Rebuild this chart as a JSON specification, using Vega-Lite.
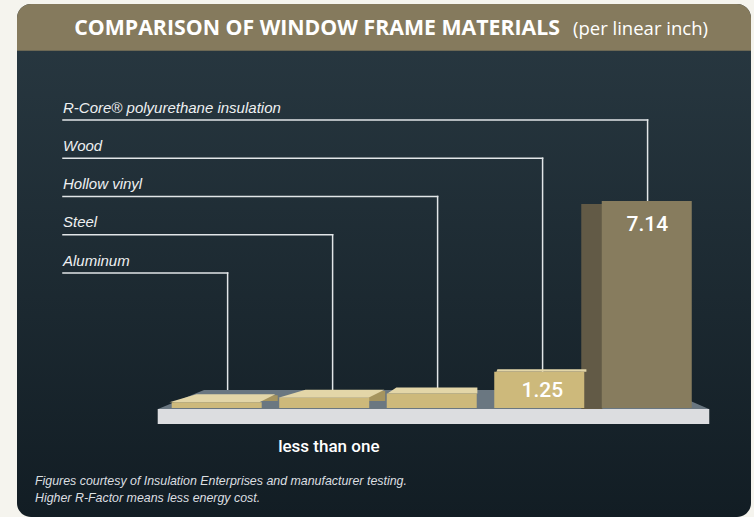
{
  "$schema": "https://vega.github.io/schema/vega-lite/v6.json",
  "width": 754,
  "height": 517,
  "autosize": {"type": "fit", "contains": "padding"},
  "padding": {"left": 17, "top": 4, "right": 3, "bottom": 0},
  "background": "#f5f4ee",
  "config": {
    "view": {
      "fill": {"gradient": "linear", "x1": 0, "y1": 0, "x2": 0, "y2": 1,
        "stops": [{"offset": 0, "color": "#293942"}, {"offset": 1, "color": "#121d24"}]},
      "stroke": null,
      "cornerRadius": 14
    }
  },
  "data": {"values": [
    {"material": "Aluminum", "value": 0.2, "order": 1},
    {"material": "Steel", "value": 0.35, "order": 2},
    {"material": "Hollow vinyl", "value": 0.5, "order": 3},
    {"material": "Wood", "value": 1.25, "order": 4},
    {"material": "R-Core® polyurethane insulation", "value": 7.14, "order": 5}
  ]},
  "resolve": {"scale": {"x": "independent", "y": "independent"}},
  "layer": [
    {
      "data": {"values": [{}]},
      "mark": {"type": "rect", "color": "#857a5d", "cornerRadiusTopLeft": 14, "cornerRadiusTopRight": 14},
      "encoding": {
        "x": {"datum": -0.811, "type": "quantitative", "scale": {"domain": [-0.811, 5.923], "nice": false, "zero": false}, "axis": null},
        "x2": {"datum": 5.923},
        "y": {"datum": 12.32, "type": "quantitative", "scale": {"domain": [-3.759, 13.931], "nice": false, "zero": false}, "axis": null},
        "y2": {"datum": 13.931}
      }
    },
    {
      "mark": {"type": "rule", "color": "#e2e6e8", "strokeWidth": 1.5, "strokeCap": "square"},
      "encoding": {
        "x": {"field": "order", "type": "quantitative", "scale": {"domain": [-1.006, 5.985], "nice": false, "zero": false}, "axis": null},
        "x2": {"datum": -0.568},
        "y": {"field": "order", "type": "quantitative", "scale": {"domain": [-5.379, 8.033], "nice": false, "zero": false}, "axis": null}
      }
    },
    {
      "mark": {"type": "rule", "color": "#e2e6e8", "strokeWidth": 1.5, "strokeCap": "square"},
      "encoding": {
        "x": {"field": "order", "type": "quantitative", "scale": {"domain": [-1.006, 5.985], "nice": false, "zero": false}, "axis": null},
        "y": {"field": "order", "type": "quantitative", "scale": {"domain": [-5.379, 8.033], "nice": false, "zero": false}, "axis": null},
        "y2": {"datum": -2.451}
      }
    },
    {
      "mark": {"type": "text", "align": "left", "baseline": "alphabetic", "dy": -7.5, "font": "Liberation Sans", "fontStyle": "italic", "fontSize": 15, "color": "#eef0f1"},
      "encoding": {
        "x": {"datum": -0.568, "type": "quantitative", "scale": {"domain": [-1.006, 5.985], "nice": false, "zero": false}, "axis": null},
        "y": {"field": "order", "type": "quantitative", "scale": {"domain": [-5.379, 8.033], "nice": false, "zero": false}, "axis": null},
        "text": {"field": "material"}
      }
    },
    {
      "data": {"values": [{}]},
      "mark": {"type": "point", "shape": "M-0.9183,0L0.9183,0L0.7717,-0.0633L-0.765,-0.0633Z", "size": 360000, "filled": true, "opacity": 1, "color": "#6a7781", "strokeWidth": 0},
      "encoding": {
        "x": {"datum": 3.01, "type": "quantitative", "scale": {"domain": [-0.811, 5.923], "nice": false, "zero": false}, "axis": null},
        "y": {"datum": -0.035, "type": "quantitative", "scale": {"domain": [-3.759, 13.931], "nice": false, "zero": false}, "axis": null}
      }
    },
    {
      "transform": [{"filter": "datum.order <= 2"}],
      "mark": {"type": "bar", "width": 17, "xOffset": 52.5, "yOffset": -7, "y2Offset": -7, "color": "#a5945f"},
      "encoding": {
        "x": {"field": "order", "type": "quantitative", "scale": {"domain": [-0.811, 5.923], "nice": false, "zero": false}, "axis": null},
        "y": {"field": "value", "type": "quantitative", "scale": {"domain": [-3.759, 13.931], "nice": false, "zero": false}, "axis": null},
        "y2": {"datum": 0}
      }
    },
    {
      "transform": [{"filter": "datum.order == 5"}],
      "mark": {"type": "bar", "width": 21, "xOffset": -55, "yOffset": 3, "y2Offset": 3, "color": "#625a46"},
      "encoding": {
        "x": {"field": "order", "type": "quantitative", "scale": {"domain": [-0.811, 5.923], "nice": false, "zero": false}, "axis": null},
        "y": {"field": "value", "type": "quantitative", "scale": {"domain": [-3.759, 13.931], "nice": false, "zero": false}, "axis": null},
        "y2": {"datum": 0}
      }
    },
    {
      "transform": [{"filter": "datum.order <= 2"}],
      "mark": {"type": "point", "shape": "M-0.9,0L0.9,0L1.22,-0.16L-0.36,-0.16Z", "size": 10000, "filled": true, "opacity": 1, "color": "#e3d6a8", "strokeWidth": 0},
      "encoding": {
        "x": {"field": "order", "type": "quantitative", "scale": {"domain": [-0.811, 5.923], "nice": false, "zero": false}, "axis": null},
        "y": {"field": "value", "type": "quantitative", "scale": {"domain": [-3.759, 13.931], "nice": false, "zero": false}, "axis": null}
      }
    },
    {
      "transform": [{"filter": "datum.order == 3"}],
      "mark": {"type": "point", "shape": "M-0.9,0L0.9,0L0.9,-0.12L-0.72,-0.12Z", "size": 10000, "filled": true, "opacity": 1, "color": "#e3d6a8", "strokeWidth": 0},
      "encoding": {
        "x": {"field": "order", "type": "quantitative", "scale": {"domain": [-0.811, 5.923], "nice": false, "zero": false}, "axis": null},
        "y": {"field": "value", "type": "quantitative", "scale": {"domain": [-3.759, 13.931], "nice": false, "zero": false}, "axis": null}
      }
    },
    {
      "transform": [{"filter": "datum.order == 4"}],
      "mark": {"type": "point", "shape": "M-0.9,0L0.9,0L0.9,-0.05L-0.88,-0.05Z", "size": 10000, "filled": true, "opacity": 1, "color": "#e3d6a8", "strokeWidth": 0},
      "encoding": {
        "x": {"field": "order", "type": "quantitative", "scale": {"domain": [-0.811, 5.923], "nice": false, "zero": false}, "axis": null},
        "y": {"field": "value", "type": "quantitative", "scale": {"domain": [-3.759, 13.931], "nice": false, "zero": false}, "axis": null}
      }
    },
    {
      "mark": {"type": "bar", "width": 90},
      "encoding": {
        "x": {"field": "order", "type": "quantitative", "scale": {"domain": [-0.811, 5.923], "nice": false, "zero": false}, "axis": null},
        "y": {"field": "value", "type": "quantitative", "scale": {"domain": [-3.759, 13.931], "nice": false, "zero": false}, "axis": null},
        "y2": {"datum": 0},
        "color": {"field": "material", "type": "nominal", "legend": null,
          "scale": {"domain": ["Aluminum", "Steel", "Hollow vinyl", "Wood", "R-Core® polyurethane insulation"],
                    "range": ["#cdb97b", "#cdb97b", "#cdb97b", "#cdb97b", "#877c5e"]}}
      }
    },
    {
      "data": {"values": [{}]},
      "mark": {"type": "rect", "color": "#dcdde0"},
      "encoding": {
        "x": {"datum": 0.48, "type": "quantitative", "scale": {"domain": [-0.811, 5.923], "nice": false, "zero": false}, "axis": null},
        "x2": {"datum": 5.54},
        "y": {"datum": -0.035, "type": "quantitative", "scale": {"domain": [-3.759, 13.931], "nice": false, "zero": false}, "axis": null},
        "y2": {"datum": -0.552}
      }
    },
    {
      "transform": [{"filter": "datum.order == 4"}],
      "mark": {"type": "text", "baseline": "middle", "align": "center", "dy": 19, "dx": 1, "font": "Roboto", "fontWeight": 500, "fontSize": 21, "color": "#ffffff"},
      "encoding": {
        "x": {"field": "order", "type": "quantitative", "scale": {"domain": [-0.811, 5.923], "nice": false, "zero": false}, "axis": null},
        "y": {"field": "value", "type": "quantitative", "scale": {"domain": [-3.759, 13.931], "nice": false, "zero": false}, "axis": null},
        "text": {"field": "value", "type": "quantitative", "format": ".2f"}
      }
    },
    {
      "transform": [{"filter": "datum.order == 5"}],
      "mark": {"type": "text", "baseline": "middle", "align": "center", "dy": 24, "dx": -3, "font": "Roboto", "fontWeight": 500, "fontSize": 21, "color": "#ffffff"},
      "encoding": {
        "x": {"field": "order", "type": "quantitative", "scale": {"domain": [-0.811, 5.923], "nice": false, "zero": false}, "axis": null},
        "y": {"field": "value", "type": "quantitative", "scale": {"domain": [-3.759, 13.931], "nice": false, "zero": false}, "axis": null},
        "text": {"field": "value", "type": "quantitative", "format": ".2f"}
      }
    },
    {
      "data": {"values": [{}]},
      "mark": {"type": "text", "text": "COMPARISON OF WINDOW FRAME MATERIALS", "align": "right", "baseline": "alphabetic", "font": "Open Sans", "fontWeight": "bold", "fontSize": 21.3, "color": "#ffffff"},
      "encoding": {
        "x": {"datum": 4.171, "type": "quantitative", "scale": {"domain": [-0.811, 5.923], "nice": false, "zero": false}, "axis": null},
        "y": {"datum": 12.879, "type": "quantitative", "scale": {"domain": [-3.759, 13.931], "nice": false, "zero": false}, "axis": null}
      }
    },
    {
      "data": {"values": [{}]},
      "mark": {"type": "text", "text": "(per linear inch)", "align": "left", "baseline": "alphabetic", "font": "Open Sans", "fontSize": 18.5, "color": "#ffffff"},
      "encoding": {
        "x": {"datum": 4.29, "type": "quantitative", "scale": {"domain": [-0.811, 5.923], "nice": false, "zero": false}, "axis": null},
        "y": {"datum": 12.879, "type": "quantitative", "scale": {"domain": [-3.759, 13.931], "nice": false, "zero": false}, "axis": null}
      }
    },
    {
      "data": {"values": [{}]},
      "mark": {"type": "text", "text": "less than one", "align": "center", "baseline": "alphabetic", "font": "Roboto", "fontWeight": 500, "fontSize": 17, "color": "#ffffff"},
      "encoding": {
        "x": {"datum": 2.05, "type": "quantitative", "scale": {"domain": [-0.811, 5.923], "nice": false, "zero": false}, "axis": null},
        "y": {"datum": -1.517, "type": "quantitative", "scale": {"domain": [-3.759, 13.931], "nice": false, "zero": false}, "axis": null}
      }
    },
    {
      "data": {"values": [{}]},
      "mark": {"type": "text", "text": ["Figures courtesy of Insulation Enterprises and manufacturer testing.", "Higher R-Factor means less energy cost."], "lineHeight": 16.7, "align": "left", "baseline": "alphabetic", "font": "Liberation Sans", "fontStyle": "italic", "fontSize": 12.4, "color": "#dcdfe1"},
      "encoding": {
        "x": {"datum": -0.646, "type": "quantitative", "scale": {"domain": [-0.811, 5.923], "nice": false, "zero": false}, "axis": null},
        "y": {"datum": -2.655, "type": "quantitative", "scale": {"domain": [-3.759, 13.931], "nice": false, "zero": false}, "axis": null}
      }
    }
  ]
}
